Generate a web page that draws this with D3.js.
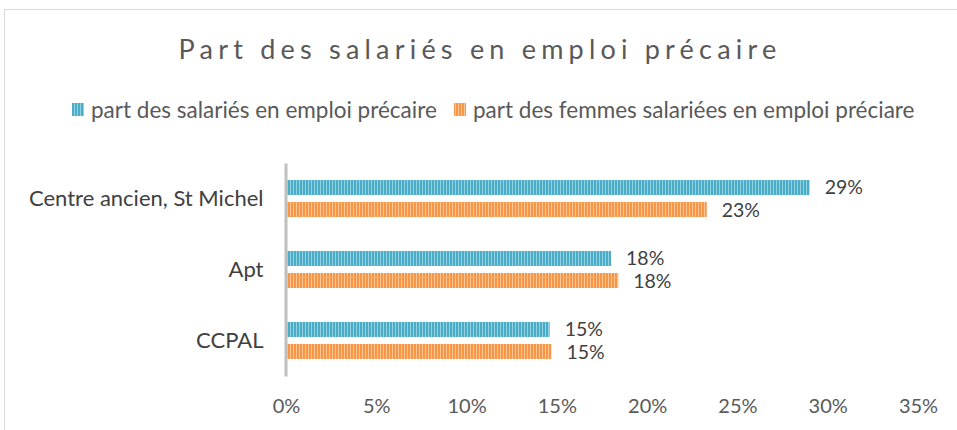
<!DOCTYPE html>
<html>
<head>
<meta charset="utf-8">
<script src="https://cdn.jsdelivr.net/npm/d3@7"></script>
<style>
  body { margin: 0; background: #fff; }
  svg { display: block; font-family: Lato, "Open Sans", sans-serif; }
</style>
</head>
<body>
<div id="chart"></div>
<script>
// Données
const categories = ["Centre ancien, St Michel", "Apt", "CCPAL"];
const seriesNames = ["part des salariés en emploi précaire", "part des femmes salariées en emploi préciare"];
const salaries = [0.29, 0.18, 0.146];
const femmes = [0.233, 0.184, 0.147];
const tickValues = [0, 0.05, 0.10, 0.15, 0.20, 0.25, 0.30, 0.35];

const W = 957, H = 430;
const colors = [
    { dark: "#4bacc6", light: "#93d2e2" },
    { dark: "#f79646", light: "#fbc595" }
];

const rows = categories.map((c, i) => ({ cat: c, values: [salaries[i], femmes[i]] }));

const svg = d3.select("#chart").append("svg")
    .attr("width", W)
    .attr("height", H);

// motifs rayés (vertical)
const defs = svg.append("defs");
colors.forEach((c, i) => {
    const p = defs.append("pattern")
        .attr("id", "stripe" + i)
        .attr("patternUnits", "userSpaceOnUse")
        .attr("width", 3)
        .attr("height", 10);
    p.append("rect").attr("width", 3).attr("height", 10).attr("fill", c.light);
    p.append("rect").attr("width", 2).attr("height", 10).attr("fill", c.dark);
});

// cadre
svg.append("rect")
    .attr("x", 4.5).attr("y", 9.5)
    .attr("width", 1000).attr("height", 600)
    .attr("fill", "none")
    .attr("stroke", "#d9d9d9");

// titre
svg.append("text")
    .attr("x", 480)
    .attr("y", 59)
    .attr("text-anchor", "middle")
    .attr("fill", "#595959")
    .style("font-size", "27px")
    .style("letter-spacing", "5.2px")
    .text("Part des salariés en emploi précaire");

// légende
const legendX = [72, 454];
const legend = svg.append("g");
seriesNames.forEach((name, i) => {
    legend.append("rect")
        .attr("x", legendX[i]).attr("y", 103)
        .attr("width", 12).attr("height", 13)
        .attr("fill", `url(#stripe${i})`);
    legend.append("text")
        .attr("x", legendX[i] + 19)
        .attr("y", 118)
        .attr("fill", "#595959")
        .style("font-size", "22.5px")
        .text(name);
});

// échelles
const x = d3.scaleLinear().domain([0, 0.35]).range([286, 918]);
const y0 = d3.scaleBand().domain(categories).range([163, 376]).paddingInner(0.479).paddingOuter(0.24);
const y1 = d3.scaleBand().domain([0, 1]).range([0, y0.bandwidth()]).paddingInner(0.318);

// barres
const groups = svg.selectAll("g.cat")
    .data(rows)
    .join("g")
    .attr("class", "cat")
    .attr("transform", d => `translate(0,${y0(d.cat)})`);

groups.selectAll("rect")
    .data(d => d.values.map((v, i) => ({ v, i })))
    .join("rect")
    .attr("x", x(0))
    .attr("y", d => y1(d.i))
    .attr("width", d => x(d.v) - x(0))
    .attr("height", y1.bandwidth())
    .attr("fill", d => `url(#stripe${d.i})`);

// étiquettes de valeur (légèrement écartées pour ne pas se chevaucher)
const fmt = d3.format(".0%");
groups.selectAll("text")
    .data(d => d.values.map((v, i) => ({ v, i })))
    .join("text")
    .attr("x", d => x(d.v) + 15)
    .attr("y", d => y1(d.i) + y1.bandwidth() / 2 + (d.i === 0 ? -0.5 : 1))
    .attr("dy", "0.35em")
    .attr("fill", "#404040")
    .style("font-size", "19.5px")
    .text(d => fmt(d.v));

// axe vertical (catégories)
const yAxis = svg.append("g")
    .attr("transform", `translate(${x(0) - 0.5},0)`)
    .call(d3.axisLeft(y0).tickSize(0).tickPadding(22));
yAxis.select(".domain").attr("stroke", "#bfbfbf").attr("stroke-width", 3);
yAxis.selectAll("text")
    .attr("fill", "#404040")
    .style("font-family", "Lato, 'Open Sans', sans-serif")
    .style("font-size", "22px");

// axe horizontal
const xAxis = svg.append("g")
    .attr("transform", "translate(0,396)")
    .call(d3.axisBottom(x).tickValues(tickValues).tickFormat(fmt).tickSize(0));
xAxis.select(".domain").remove();
xAxis.selectAll("text")
    .attr("fill", "#595959")
    .style("font-family", "Lato, 'Open Sans', sans-serif")
    .style("font-size", "20px");
</script>
</body>
</html>
